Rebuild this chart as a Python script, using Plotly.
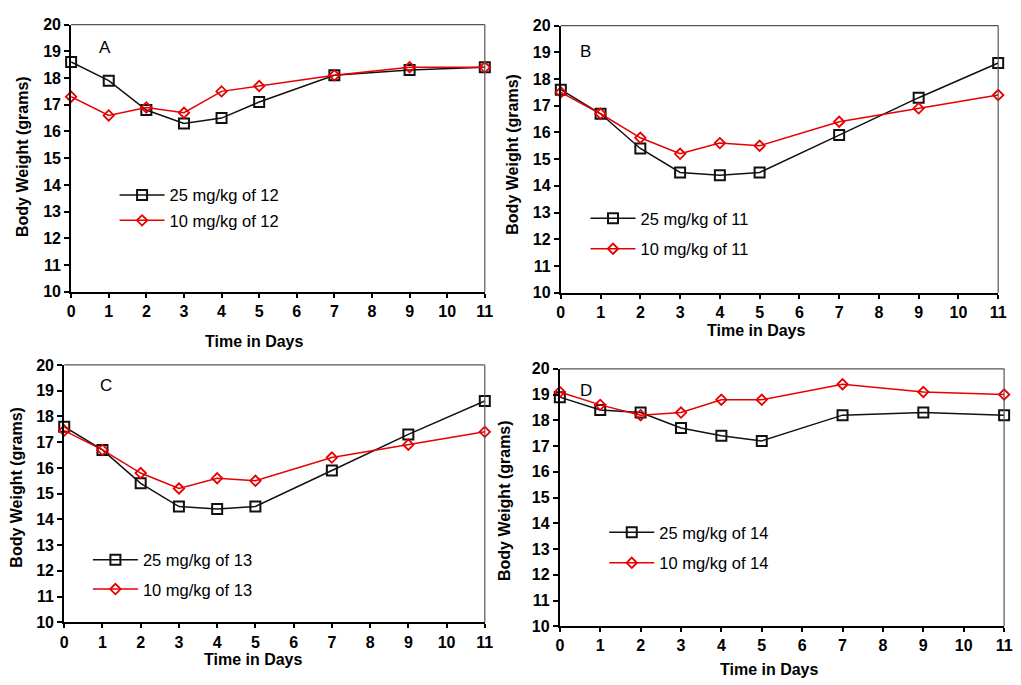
import plotly.graph_objects as go

W, H = 1021, 685

days = [0, 1, 2, 3, 4, 5, 7, 9, 11]

a_25 = [18.6, 17.9, 16.8, 16.3, 16.5, 17.1, 18.1, 18.3, 18.4]
a_10 = [17.3, 16.6, 16.9, 16.7, 17.5, 17.7, 18.1, 18.4, 18.4]
b_25 = [17.6, 16.7, 15.4, 14.5, 14.4, 14.5, 15.9, 17.3, 18.6]
b_10 = [17.5, 16.7, 15.8, 15.2, 15.6, 15.5, 16.4, 16.9, 17.4]
c_25 = [17.6, 16.7, 15.4, 14.5, 14.4, 14.5, 15.9, 17.3, 18.6]
c_10 = [17.45, 16.7, 15.8, 15.2, 15.6, 15.5, 16.4, 16.9, 17.4]
d_25 = [18.9, 18.4, 18.3, 17.7, 17.4, 17.2, 18.2, 18.3, 18.2]
d_10 = [19.1, 18.6, 18.2, 18.3, 18.8, 18.8, 19.4, 19.1, 19.0]

compounds = ["12", "11", "13", "14"]
panel_letters = ["A", "B", "C", "D"]
x_ticks = list(range(0, 12))
y_ticks = list(range(10, 21))
x_title = "Time in Days"
y_title = "Body Weight (grams)"

series = [(a_25, a_10), (b_25, b_10), (c_25, c_10), (d_25, d_10)]

# plot-area boxes in pixels: (left, right, top, bottom)
boxes = [(68, 487, 17, 291), (564, 1007, 18, 292), (61, 487, 366, 630), (563, 1013, 370, 634)]
legend_pos = [(112, 174), (589, 198), (85, 548), (608, 520)]
legend_gap = [1, 6, 5, 6]
letter_pos = [(102, 40), (589, 45), (103, 387), (590, 392)]
xtitle_pos = [(254, 342), (762, 331), (253, 668), (775, 678)]
ytitle_pos = [(18, 152), (515, 150), (13, 491), (507, 505)]

FONT = "Liberation Sans, Arial, sans-serif"
RED = "#e60000"
BLACK = "#111111"

fig = go.Figure()
layout = dict(
    width=W, height=H, margin=dict(l=0, r=0, t=0, b=0),
    paper_bgcolor="white", plot_bgcolor="white",
    font=dict(family=FONT, color="black"),
    shapes=[], annotations=[],
)

for i, (s25, s10) in enumerate(series):
    n = "" if i == 0 else str(i + 1)
    xa, ya = "x" + n, "y" + n
    lg = "legend" + n
    comp = compounds[i]
    fig.add_trace(go.Scatter(
        x=days, y=s25, mode="lines+markers", name="25 mg/kg of " + comp,
        xaxis=xa, yaxis=ya, legend=lg, legendgroup="g25_" + comp, cliponaxis=False,
        line=dict(color=BLACK, width=1.5),
        marker=dict(symbol="square-open", size=10, color=BLACK, line=dict(width=2, color=BLACK)),
    ))
    fig.add_trace(go.Scatter(
        x=days, y=s10, mode="lines+markers", name="10 mg/kg of " + comp,
        xaxis=xa, yaxis=ya, legend=lg, legendgroup="g10_" + comp, cliponaxis=False,
        line=dict(color=RED, width=1.5),
        marker=dict(symbol="diamond-open", size=8, color=RED, line=dict(width=1.8, color=RED)),
    ))
    l, r, t, b = boxes[i]
    layout["xaxis" + n] = dict(
        domain=[l / W, r / W], anchor=ya, range=[0, 11], tickmode="array", tickvals=x_ticks,
        ticktext=["<b>%d</b>" % v for v in x_ticks],
        showgrid=False, zeroline=False, showline=True, linecolor="black", linewidth=2,
        ticks="outside", ticklen=4, tickwidth=1.5, tickcolor="black",
        tickfont=dict(family=FONT, size=16, color="black"),
    )
    layout["yaxis" + n] = dict(
        domain=[1 - b / H, 1 - t / H], anchor=xa, range=[10, 20], tickmode="array", tickvals=y_ticks,
        ticktext=["<b>%d</b>" % v for v in y_ticks],
        showgrid=False, zeroline=False, showline=True, linecolor="black", linewidth=2,
        ticks="outside", ticklen=5, tickwidth=1.5, tickcolor="black",
        tickfont=dict(family=FONT, size=16, color="black"),
    )
    # thin top / right frame
    layout["shapes"].append(dict(type="line", xref=xa + " domain", yref=ya + " domain",
                                 x0=0, x1=1, y0=1, y1=1, line=dict(color="#555555", width=1.2)))
    layout["shapes"].append(dict(type="line", xref=xa + " domain", yref=ya + " domain",
                                 x0=1, x1=1, y0=0, y1=1, line=dict(color="#555555", width=1.2)))
    lx, ly = legend_pos[i]
    layout[lg] = dict(
        x=lx / W, y=1 - ly / H, xanchor="left", yanchor="top", bgcolor="rgba(0,0,0,0)",
        borderwidth=0, font=dict(family=FONT, size=16.5, color="black"),
        traceorder="grouped", tracegroupgap=legend_gap[i], itemwidth=45,
    )
    px, py = letter_pos[i]
    layout["annotations"].append(dict(text=panel_letters[i], x=px / W, y=1 - py / H, xref="paper", yref="paper",
                                      xanchor="center", yanchor="middle", showarrow=False,
                                      font=dict(family=FONT, size=17, color="black")))
    px, py = xtitle_pos[i]
    layout["annotations"].append(dict(text="<b>" + x_title + "</b>", x=px / W, y=1 - py / H, xref="paper", yref="paper",
                                      xanchor="center", yanchor="middle", showarrow=False,
                                      font=dict(family=FONT, size=16, color="black")))
    px, py = ytitle_pos[i]
    layout["annotations"].append(dict(text="<b>" + y_title + "</b>", x=px / W, y=1 - py / H, xref="paper", yref="paper",
                                      xanchor="center", yanchor="middle", showarrow=False, textangle=-90,
                                      font=dict(family=FONT, size=16, color="black")))

fig.update_layout(**layout)
fig.write_html("out.html")
